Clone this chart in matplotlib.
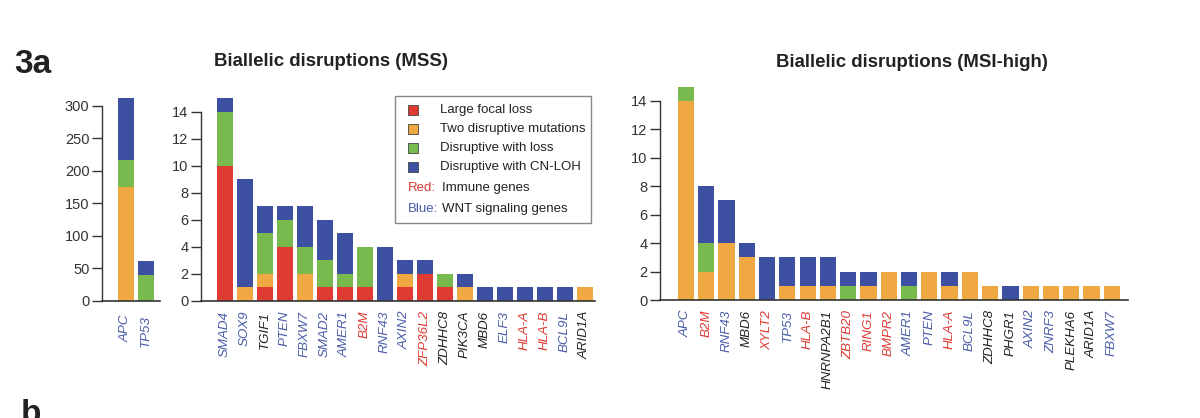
import matplotlib
matplotlib.use("Agg")
import matplotlib.pyplot as plt
from matplotlib.patches import Rectangle
import numpy as np

plt.rcParams['font.family'] = ['Liberation Sans', 'DejaVu Sans']

# ---- colours ----
C_RED = '#e03b32'
C_ORA = '#f0a842'
C_GRN = '#79ba4e'
C_BLU = '#3d50a2'
L_BLU = '#4a5ca8'
L_RED = '#e03a34'
L_BLK = '#222222'

# ---- data: left panel (APC / TP53, MSS) ----
left_genes = ['APC', 'TP53']
left_red = [0, 0]
left_orange = [175, 0]
left_green = [42, 40]
left_blue = [95, 22]
left_lab = ['b', 'b']

# ---- data: MSS panel ----
mss_genes = ['SMAD4', 'SOX9', 'TGIF1', 'PTEN', 'FBXW7', 'SMAD2', 'AMER1', 'B2M',
             'RNF43', 'AXIN2', 'ZFP36L2', 'ZDHHC8', 'PIK3CA', 'MBD6', 'ELF3',
             'HLA-A', 'HLA-B', 'BCL9L', 'ARID1A']
mss_red = [10, 0, 1, 4, 0, 1, 1, 1, 0, 1, 2, 1, 0, 0, 0, 0, 0, 0, 0]
mss_orange = [0, 1, 1, 0, 2, 0, 0, 0, 0, 1, 0, 0, 1, 0, 0, 0, 0, 0, 1]
mss_green = [4, 0, 3, 2, 2, 2, 1, 3, 0, 0, 0, 1, 0, 0, 0, 0, 0, 0, 0]
mss_blue = [1, 8, 2, 1, 3, 3, 3, 0, 4, 1, 1, 0, 1, 1, 1, 1, 1, 1, 0]
mss_lab = ['b', 'b', 'k', 'b', 'b', 'b', 'b', 'r', 'b', 'b', 'r', 'k', 'k', 'k',
           'b', 'r', 'r', 'b', 'k']

# ---- data: MSI-high panel ----
msi_genes = ['APC', 'B2M', 'RNF43', 'MBD6', 'XYLT2', 'TP53', 'HLA-B', 'HNRNPA2B1',
             'ZBTB20', 'RING1', 'BMPR2', 'AMER1', 'PTEN', 'HLA-A', 'BCL9L',
             'ZDHHC8', 'PHGR1', 'AXIN2', 'ZNRF3', 'PLEKHA6', 'ARID1A', 'FBXW7']
msi_red = [0] * 22
msi_orange = [14, 2, 4, 3, 0, 1, 1, 1, 0, 1, 2, 0, 2, 1, 2, 1, 0, 1, 1, 1, 1, 1]
msi_green = [1, 2, 0, 0, 0, 0, 0, 0, 1, 0, 0, 1, 0, 0, 0, 0, 0, 0, 0, 0, 0, 0]
msi_blue = [0, 4, 3, 1, 3, 2, 2, 2, 1, 1, 0, 1, 0, 1, 0, 0, 1, 0, 0, 0, 0, 0]
msi_lab = ['b', 'r', 'b', 'k', 'r', 'b', 'r', 'k', 'r', 'r', 'r', 'b', 'b', 'r',
           'b', 'k', 'k', 'b', 'b', 'k', 'k', 'b']

legend_labels = ['Large focal loss', 'Two disruptive mutations',
                 'Disruptive with loss', 'Disruptive with CN-LOH']

LABCOL = {'b': L_BLU, 'r': L_RED, 'k': L_BLK}
W, H = 1200, 418

fig = plt.figure(figsize=(12, 4.18), dpi=100)


def fx(px):
    return px / W


def fy(py):
    return 1 - py / H


def make_ax(x0, x1, ybot, ytop):
    return fig.add_axes([fx(x0), fy(ybot), fx(x1) - fx(x0), fy(ytop) - fy(ybot)])


def draw(ax, genes, red, orange, green, blue, labcols, xlim, ylim, yticks):
    x = np.arange(len(genes))
    bottom = np.zeros(len(genes))
    for vals, col in [(red, C_RED), (orange, C_ORA), (green, C_GRN), (blue, C_BLU)]:
        v = np.array(vals, dtype=float)
        ax.bar(x, v, width=0.8, bottom=bottom, color=col, linewidth=0)
        bottom += v
    ax.set_xlim(*xlim)
    ax.set_ylim(*ylim)
    ax.set_yticks(yticks)
    ax.set_xticks(x)
    ax.set_xticklabels(genes, rotation=90, fontstyle='italic', fontsize=9.6,
                       ha='center', va='top')
    for t, c in zip(ax.get_xticklabels(), labcols):
        t.set_color(LABCOL[c])
    ax.tick_params(axis='x', length=0, pad=7)
    ax.tick_params(axis='y', length=7, width=1, colors='#333333',
                   labelsize=10.5, labelcolor='#333333', pad=2)
    for s in ['top', 'right']:
        ax.spines[s].set_visible(False)
    ax.spines['left'].set_color('#333333')
    ax.spines['bottom'].set_color('#333333')
    ax.spines['left'].set_linewidth(1)
    ax.spines['bottom'].set_linewidth(1.2)
    ax.spines['left'].set_bounds(0, yticks[-1])
    ax.patch.set_alpha(0)


ax1 = make_ax(102, 160, 301, 97.7)
draw(ax1, left_genes, left_red, left_orange, left_green, left_blue, left_lab,
     (-1.2, 1.7), (0, 312), [0, 50, 100, 150, 200, 250, 300])
ax1.tick_params(axis='x', pad=10)

ax2 = make_ax(201, 595, 301, 97.7)
draw(ax2, mss_genes, mss_red, mss_orange, mss_green, mss_blue, mss_lab,
     (-1.19, 18.5), (0, 15.04), [0, 2, 4, 6, 8, 10, 12, 14])

ax3 = make_ax(660, 1128, 300, 86.7)
draw(ax3, msi_genes, msi_red, msi_orange, msi_green, msi_blue, msi_lab,
     (-1.28, 21.8), (0, 15.0), [0, 2, 4, 6, 8, 10, 12, 14])

# titles
fig.text(fx(331), fy(66), 'Biallelic disruptions (MSS)', ha='center', va='baseline',
         fontsize=13.4, fontweight='bold', color='#222222')
fig.text(fx(912), fy(67), 'Biallelic disruptions (MSI-high)', ha='center', va='baseline',
         fontsize=13.4, fontweight='bold', color='#222222')
fig.text(fx(14), fy(73), '3a', ha='left', va='baseline', fontsize=24,
         fontweight='bold', color='#222222')
fig.text(fx(21), fy(423), 'b', ha='left', va='baseline', fontsize=24,
         fontweight='bold', color='#222222')

# legend box
fig.patches.append(Rectangle((fx(395), fy(223)), fx(591) - fx(395), fy(95.7) - fy(223),
                             transform=fig.transFigure, facecolor='white',
                             edgecolor='#888888', linewidth=1, zorder=5))
rows_y = [110, 129, 148, 167]
for yy, lab, col in zip(rows_y, legend_labels, [C_RED, C_ORA, C_GRN, C_BLU]):
    fig.patches.append(Rectangle((fx(408), fy(yy + 5)), fx(10), fy(0) - fy(10),
                                 transform=fig.transFigure, facecolor=col,
                                 edgecolor='#444444', linewidth=0.6, zorder=6))
    fig.text(fx(440), fy(yy), lab, ha='left', va='center', fontsize=9.5,
             color='#222222', zorder=7)
fig.text(fx(408), fy(188), 'Red:', ha='left', va='center', fontsize=9.5,
         color=L_RED, zorder=7)
fig.text(fx(442), fy(188), 'Immune genes', ha='left', va='center', fontsize=9.5,
         color='#222222', zorder=7)
fig.text(fx(408), fy(209), 'Blue:', ha='left', va='center', fontsize=9.5,
         color=L_BLU, zorder=7)
fig.text(fx(442), fy(209), 'WNT signaling genes', ha='left', va='center', fontsize=9.5,
         color='#222222', zorder=7)

fig.savefig('out.png', dpi=100)
